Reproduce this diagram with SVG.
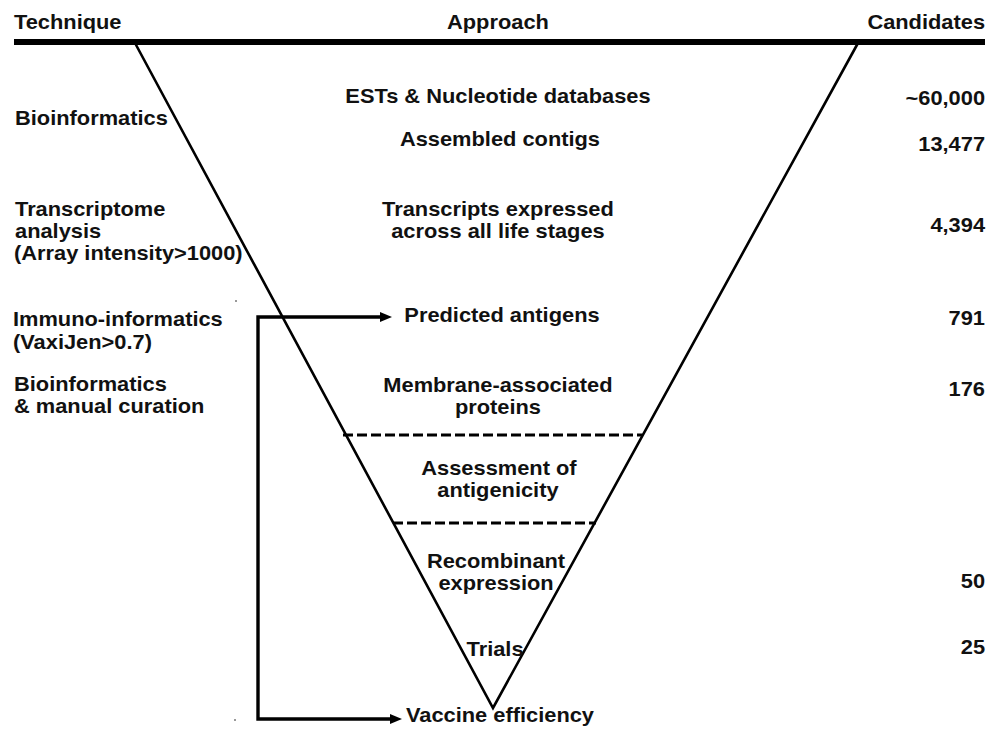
<svg xmlns="http://www.w3.org/2000/svg" width="989" height="729" viewBox="0 0 989 729">
<style>
text{font-family:"Liberation Sans",Arial,sans-serif;font-weight:bold;font-size:19.5px;fill:#111}
.c{text-anchor:middle}
.r{text-anchor:end}
.tri{fill:none;stroke:#000;stroke-width:2.6;stroke-linejoin:miter}
.dash{stroke:#000;stroke-width:3;stroke-dasharray:10 4}
.arr{fill:none;stroke:#000;stroke-width:3.4}
</style>
<defs>
<marker id="ah" viewBox="0 0 12 10" refX="0" refY="5" markerWidth="12" markerHeight="10" markerUnits="userSpaceOnUse" orient="auto-start-reverse">
<path d="M0,0 L12,5 L0,10 z" fill="#000"/>
</marker>
</defs>
<rect width="989" height="729" fill="#fff"/>
<g id="header">
<rect x="14" y="39" width="971" height="6" fill="#000"/>
<g transform="scale(1.12 1)">
<text x="12.5" y="29">Technique</text>
<text class="c" x="444.6" y="29">Approach</text>
<text class="r" x="879.5" y="29">Candidates</text>
</g>
</g>
<g id="funnel">
<polyline class="tri" points="135,43 493,708 858,43"/>
<line class="dash" x1="343" y1="435" x2="642" y2="435"/>
<line class="dash" x1="393" y1="523" x2="596" y2="523"/>
</g>
<g id="technique-labels" transform="scale(1.12 1)">
<text x="13.4" y="125">Bioinformatics</text>
<text x="13.4" y="216">Transcriptome</text>
<text x="13.4" y="238">analysis</text>
<text x="12.5" y="260">(Array intensity&gt;1000)</text>
<text x="11.6" y="326">Immuno-informatics</text>
<text x="11.6" y="349">(VaxiJen&gt;0.7)</text>
<text x="12.5" y="391">Bioinformatics</text>
<text x="12.5" y="413">&amp; manual curation</text>
</g>
<g id="node-ests" transform="scale(1.12 1)"><text class="c" x="444.6" y="103">ESTs &amp; Nucleotide databases</text></g>
<g id="node-contigs" transform="scale(1.12 1)"><text class="c" x="446.4" y="146">Assembled contigs</text></g>
<g id="node-transcripts" transform="scale(1.12 1)"><text class="c" x="444.6" y="216">Transcripts expressed</text><text class="c" x="444.6" y="238">across all life stages</text></g>
<g id="node-antigens" transform="scale(1.12 1)"><text class="c" x="448.2" y="322">Predicted antigens</text></g>
<g id="node-membrane" transform="scale(1.12 1)"><text class="c" x="444.6" y="392">Membrane-associated</text><text class="c" x="444.6" y="414">proteins</text></g>
<g id="node-assessment" transform="scale(1.12 1)"><text class="c" x="445.5" y="475">Assessment of</text><text class="c" x="444.6" y="497">antigenicity</text></g>
<g id="node-recombinant" transform="scale(1.12 1)"><text class="c" x="442.9" y="568">Recombinant</text><text class="c" x="442.9" y="590">expression</text></g>
<g id="node-trials" transform="scale(1.12 1)"><text class="c" x="442" y="656">Trials</text></g>
<g id="node-vaccine" transform="scale(1.12 1)"><text class="c" x="446.4" y="722">Vaccine efficiency</text></g>
<g id="candidates" transform="scale(1.12 1)">
<text class="r" x="879.5" y="105">~60,000</text>
<text class="r" x="879.5" y="151">13,477</text>
<text class="r" x="879.5" y="232">4,394</text>
<text class="r" x="879.5" y="325">791</text>
<text class="r" x="879.5" y="396">176</text>
<text class="r" x="879.5" y="588">50</text>
<text class="r" x="879.5" y="654">25</text>
</g>
<g id="connectors">
<path class="arr" d="M380,317 H258 V719 H390" marker-start="url(#ah)" marker-end="url(#ah)"/>
</g>
<g id="specks" fill="#777">
<circle cx="236" cy="301" r="1"/>
<circle cx="235" cy="720" r="1"/>
</g>
</svg>
